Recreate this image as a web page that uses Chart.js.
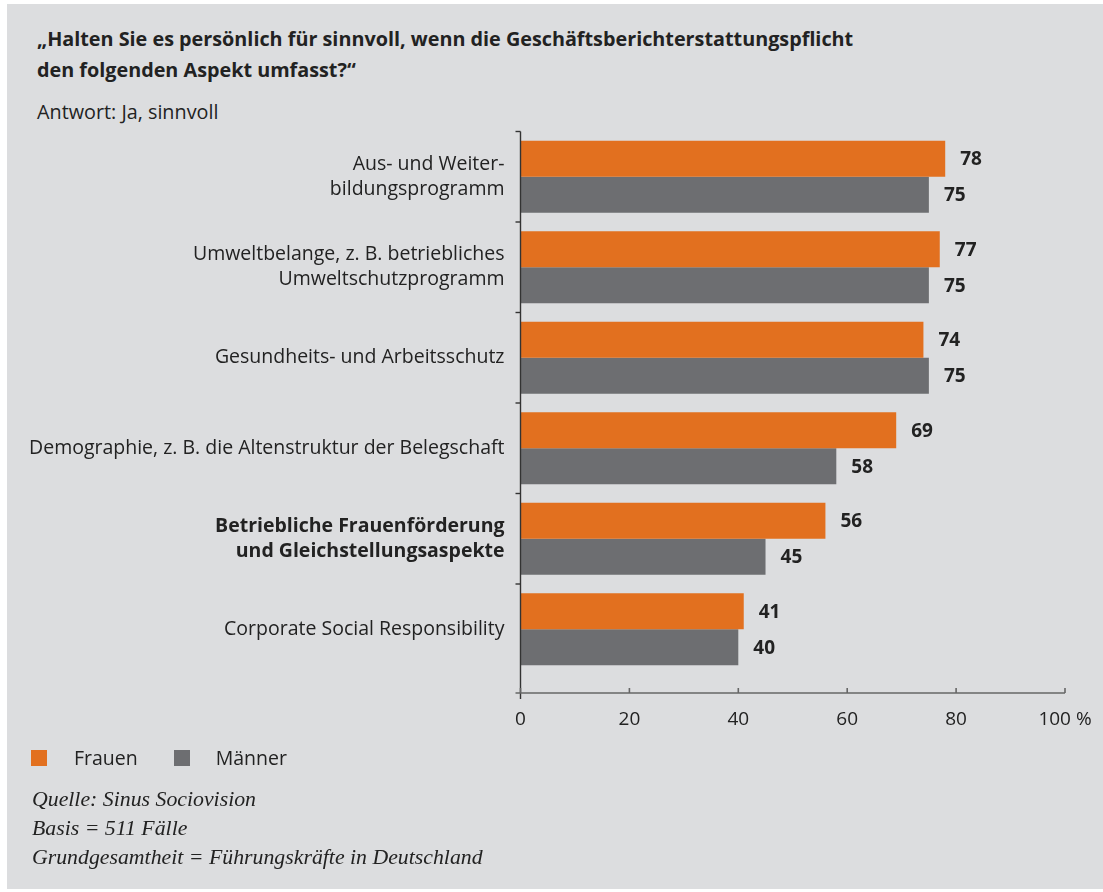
<!DOCTYPE html>
<html lang="de">
<head>
<meta charset="utf-8">
<title>Geschäftsberichterstattungspflicht</title>
<script src="https://cdn.jsdelivr.net/npm/chart.js@4.4.1/dist/chart.umd.min.js"></script>
<style>
    html, body { margin: 0; padding: 0; background: #ffffff; }
    body { width: 1103px; height: 892px; position: relative; overflow: hidden; font-family: 'Open Sans', sans-serif; color: #222; }
    #panel { position: absolute; left: 7px; top: 4px; width: 1096px; height: 885px; background: #dcdddf; }
    #chart-wrap { position: absolute; left: 0; top: 0; width: 1103px; height: 892px; }
    .title { position: absolute; left: 37px; top: 23px; font-weight: 700; font-size: 19.8px; line-height: 31px; }
    .sub { position: absolute; left: 37px; top: 98px; font-size: 19.8px; }
    .legend { position: absolute; left: 31px; top: 744px; font-size: 19.5px; display: flex; align-items: center; }
    .legend .box { width: 16px; height: 16px; display: inline-block; }
    .notes { position: absolute; left: 32px; top: 785px; font-family: 'Liberation Serif', serif; font-style: italic; font-size: 21.8px; line-height: 29px; color: #222; }
</style>
</head>
<body>
<div id="panel"></div>
<div class="title">„Halten Sie es persönlich für sinnvoll, wenn die Geschäftsberichterstattungspflicht<br>den folgenden Aspekt umfasst?“</div>
<div class="sub">Antwort: Ja, sinnvoll</div>
<div id="chart-wrap"><canvas id="chart"></canvas></div>
<div class="legend">
    <span class="box" style="background:#e2701f"></span><span style="margin-left:27px">Frauen</span>
    <span class="box" style="background:#6d6e71;margin-left:36px"></span><span style="margin-left:26px">Männer</span>
</div>
<div class="notes">Quelle: Sinus Sociovision<br>Basis = 511 Fälle<br>Grundgesamtheit = Führungskräfte in Deutschland</div>

<script>
// Data
const categories = [
    ['Aus- und Weiter-', 'bildungsprogramm'],
    ['Umweltbelange, z. B. betriebliches', 'Umweltschutzprogramm'],
    'Gesundheits- und Arbeitsschutz',
    'Demographie, z. B. die Altenstruktur der Belegschaft',
    ['Betriebliche Frauenförderung', 'und Gleichstellungsaspekte'],
    'Corporate Social Responsibility'
];
const frauen = [78, 77, 74, 69, 56, 41];
const maenner = [75, 75, 75, 58, 45, 40];
const xTicks = [0, 20, 40, 60, 80, 100];
const boldCategory = 4;

const orange = '#e2701f';
const grey = '#6d6e71';

// axis lines + value labels
const axisPlugin = {
    id: 'axisLines',
    afterDraw(chart) {
        const ctx = chart.ctx;
        const area = chart.chartArea;
        const xs = chart.scales.x;
        const ys = chart.scales.y;
        const x0 = xs.getPixelForValue(0);
        const axisY = area.bottom + 18.5;
        const band = (area.bottom - area.top) / categories.length;

        ctx.save();
        ctx.strokeStyle = '#333';
        ctx.lineWidth = 1.4;
        ctx.beginPath();
        ctx.moveTo(x0, area.top);
        ctx.lineTo(x0, axisY + 6);
        ctx.stroke();
        for (let i = 0; i < categories.length; i++) {
            const y = ys.getPixelForValue(i) - band / 2;
            ctx.beginPath();
            ctx.moveTo(x0 - 5, y);
            ctx.lineTo(x0, y);
            ctx.stroke();
        }

        ctx.strokeStyle = '#666';
        ctx.lineWidth = 1.6;
        ctx.beginPath();
        ctx.moveTo(x0 - 5, axisY);
        ctx.lineTo(xs.getPixelForValue(100), axisY);
        ctx.stroke();
        xTicks.forEach(v => {
            const x = xs.getPixelForValue(v);
            ctx.beginPath();
            ctx.moveTo(x, axisY - 5);
            ctx.lineTo(x, axisY);
            ctx.stroke();
        });

        ctx.fillStyle = '#222';
        ctx.font = "700 19px 'Open Sans'";
        ctx.textAlign = 'left';
        ctx.textBaseline = 'middle';
        chart.data.datasets.forEach((ds, di) => {
            chart.getDatasetMeta(di).data.forEach((el, i) => {
                ctx.fillText(ds.data[i], el.x + 15, el.y + 1);
            });
        });
        ctx.restore();
    }
};

new Chart(document.getElementById('chart'), {
    type: 'bar',
    data: {
        labels: categories,
        datasets: [
            { label: 'Frauen', data: frauen, backgroundColor: orange, categoryPercentage: 0.795, barPercentage: 1.0 },
            { label: 'Männer', data: maenner, backgroundColor: grey, categoryPercentage: 0.795, barPercentage: 1.0 }
        ]
    },
    options: {
        indexAxis: 'y',
        responsive: true,
        maintainAspectRatio: false,
        animation: false,
        layout: { padding: { top: 131.5, right: 38, bottom: 157.5, left: 0 } },
        plugins: { legend: { display: false }, tooltip: { enabled: false } },
        scales: {
            x: {
                min: 0,
                max: 100,
                afterFit: s => { s.height = 60; s.paddingLeft = 0; s.paddingRight = 0; },
                afterBuildTicks: s => { s.ticks = xTicks.map(v => ({ value: v })); },
                grid: { display: false },
                border: { display: false },
                ticks: {
                    padding: 26,
                    color: '#222',
                    font: { family: 'Open Sans', size: 19 },
                    callback: v => v === 100 ? '100 %' : v
                }
            },
            y: {
                afterFit: s => { s.width = 520.5; s.paddingTop = 0; s.paddingBottom = 0; },
                grid: { display: false },
                border: { display: false },
                ticks: {
                    padding: 8,
                    color: '#222',
                    font: c => ({ family: 'Open Sans', size: 19.5, weight: c.index === boldCategory ? '700' : '400', lineHeight: 1.28 })
                }
            }
        }
    },
    plugins: [axisPlugin]
});
</script>
</body>
</html>
